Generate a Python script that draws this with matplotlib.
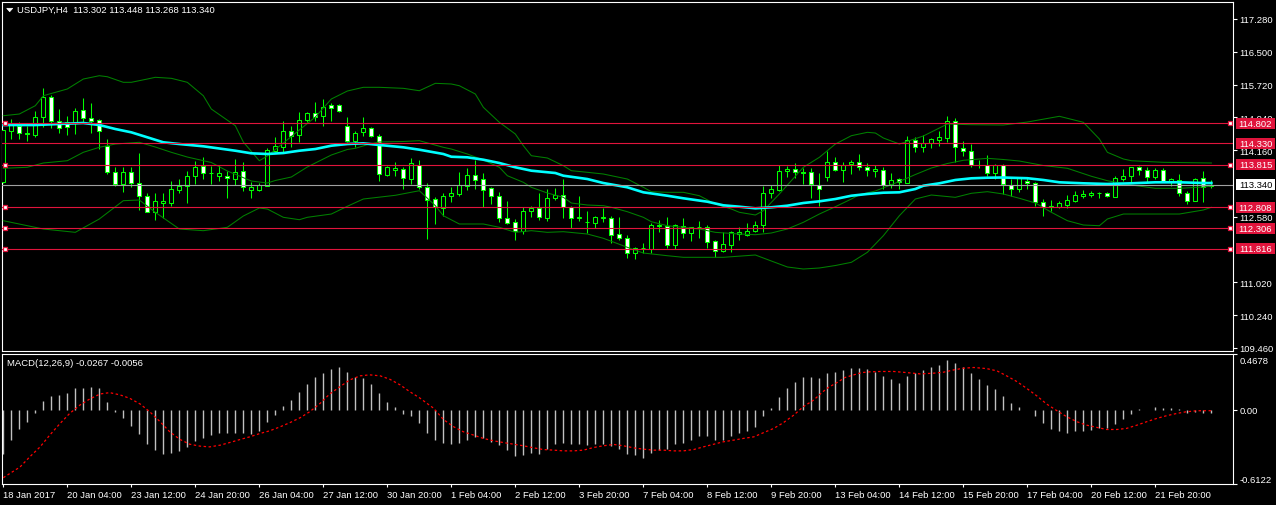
import matplotlib.pyplot as plt
import matplotlib.transforms as mtransforms
from matplotlib.patches import Rectangle, Polygon

plt.rcParams['font.family'] = ['Liberation Sans', 'DejaVu Sans']

symbol_title = "USDJPY,H4  113.302 113.448 113.268 113.340"
macd_title = "MACD(12,26,9) -0.0267 -0.0056"

# H4 candles, 18 Jan 20:00 .. 23 Feb 00:00
opens = [113.400, 114.625, 114.743, 114.570, 114.529, 114.943, 115.418, 114.862, 114.824, 114.824,
         115.117, 114.926, 114.886, 114.268, 113.636, 113.350, 113.636, 113.374, 113.065, 112.685,
         112.899, 112.899, 113.222, 113.303, 113.541, 113.778, 113.631, 113.541, 113.541, 113.476,
         113.659, 113.222, 113.222, 113.317, 114.149, 114.230, 114.610, 114.529, 114.879, 115.038,
         114.967, 115.235, 115.235, 114.736, 114.387, 114.586, 114.689, 114.506, 113.579, 113.697,
         113.714, 113.476, 113.816, 113.279, 113.001, 112.780, 113.065, 113.120, 113.317, 113.579,
         113.476, 113.262, 113.065, 112.542, 112.447, 112.233, 112.723, 112.787, 112.542, 113.025,
         113.103, 112.804, 112.542, 112.447, 112.431, 112.542, 112.542, 112.169, 112.067, 111.710,
         111.829, 111.812, 112.352, 112.352, 111.915, 112.366, 112.186, 112.328, 112.328, 111.996,
         111.758, 111.915, 112.169, 112.152, 112.233, 112.390, 113.136, 113.222, 113.659, 113.714,
         113.636, 113.636, 113.341, 113.531, 113.873, 113.697, 113.833, 113.873, 113.755, 113.674,
         113.690, 113.358, 113.476, 113.381, 114.403, 114.244, 114.325, 114.403, 114.451, 114.848,
         114.213, 114.135, 113.809, 113.809, 113.612, 113.809, 113.341, 113.239, 113.436, 113.374,
         112.923, 112.804, 112.818, 112.866, 112.961, 113.079, 113.103, 113.144, 113.144, 113.056,
         113.476, 113.555, 113.755, 113.690, 113.531, 113.690, 113.436, 113.453, 113.136, 112.961,
         113.493, 113.302]
highs = [114.650, 114.903, 114.824, 114.743, 115.086, 115.639, 115.480, 115.140, 114.967, 115.164,
         115.402, 115.276, 114.903, 114.427, 113.755, 113.755, 113.755, 114.094, 113.136, 113.136,
         113.136, 113.422, 113.476, 113.674, 113.911, 113.992, 113.793, 113.816, 113.674, 113.952,
         113.873, 113.412, 113.381, 114.213, 114.482, 114.862, 114.743, 115.062, 115.076, 115.300,
         115.378, 115.283, 115.259, 114.957, 114.625, 114.957, 114.705, 114.546, 113.793, 113.873,
         113.755, 113.976, 113.928, 113.381, 113.041, 113.144, 113.279, 113.636, 113.731, 113.928,
         113.619, 113.293, 113.160, 112.946, 112.526, 112.804, 112.842, 113.136, 113.239, 113.262,
         113.476, 112.842, 113.065, 112.709, 112.604, 112.787, 112.604, 112.580, 112.145, 111.867,
         111.955, 112.423, 112.509, 112.580, 112.407, 112.549, 112.342, 112.485, 112.383, 112.026,
         112.210, 112.248, 112.342, 112.431, 112.471, 113.317, 113.334, 113.809, 113.778, 113.850,
         113.738, 113.731, 113.612, 114.149, 113.992, 113.873, 113.928, 114.071, 113.850, 113.809,
         113.755, 113.612, 113.507, 114.491, 114.482, 114.522, 114.451, 114.610, 114.967, 114.919,
         114.373, 114.308, 113.928, 114.047, 113.833, 113.833, 113.476, 113.531, 113.500, 113.398,
         113.001, 112.977, 112.961, 113.096, 113.198, 113.222, 113.198, 113.175, 113.160, 113.555,
         113.714, 113.769, 113.778, 113.755, 113.731, 113.731, 113.507, 113.595, 113.198, 113.493,
         113.674, 113.448]
lows = [113.380, 114.427, 114.427, 114.387, 114.482, 114.705, 114.681, 114.570, 114.522, 114.546,
        114.800, 114.570, 114.189, 113.595, 113.317, 113.160, 113.293, 112.747, 112.685, 112.509,
        112.542, 112.842, 113.144, 112.899, 113.358, 113.476, 113.358, 113.436, 113.025, 113.334,
        113.184, 113.025, 113.184, 113.317, 114.111, 114.094, 114.244, 114.349, 114.838, 114.862,
        114.743, 114.862, 115.062, 114.349, 114.230, 114.506, 114.468, 113.436, 113.541, 113.555,
        113.239, 113.358, 113.239, 112.050, 112.407, 112.604, 112.937, 113.079, 113.222, 113.239,
        112.804, 112.882, 112.461, 112.407, 112.026, 112.169, 112.580, 112.509, 112.485, 112.984,
        112.549, 112.312, 112.485, 112.193, 112.312, 112.461, 111.948, 112.026, 111.599, 111.575,
        111.717, 111.717, 112.224, 111.836, 111.812, 112.074, 112.010, 112.074, 111.836, 111.629,
        111.734, 111.734, 112.034, 112.114, 112.210, 112.224, 113.025, 113.184, 113.517, 113.500,
        113.358, 113.025, 112.842, 113.436, 113.674, 113.412, 113.595, 113.697, 113.555, 113.531,
        113.239, 113.255, 113.239, 113.381, 114.125, 114.111, 114.213, 114.268, 114.349, 113.873,
        114.030, 113.755, 113.731, 113.555, 113.476, 113.120, 113.065, 113.160, 113.239, 112.828,
        112.604, 112.723, 112.780, 112.780, 112.923, 113.025, 113.041, 113.025, 113.041, 113.056,
        113.436, 113.412, 113.579, 113.412, 113.476, 113.422, 113.317, 113.079, 112.882, 112.961,
        112.937, 113.268]
closes = [114.630, 114.784, 114.563, 114.539, 114.943, 115.418, 114.862, 114.681, 114.705, 115.086,
          114.919, 114.862, 114.610, 113.636, 113.350, 113.636, 113.374, 113.065, 112.685, 112.946,
          112.953, 113.232, 113.303, 113.541, 113.755, 113.612, 113.619, 113.619, 113.493, 113.650,
          113.279, 113.279, 113.334, 114.166, 114.268, 114.610, 114.506, 114.879, 115.038, 114.957,
          115.181, 115.171, 115.086, 114.387, 114.570, 114.689, 114.491, 113.595, 113.755, 113.738,
          113.493, 113.850, 113.279, 112.984, 112.804, 113.065, 113.136, 113.334, 113.579, 113.460,
          113.222, 113.065, 112.542, 112.431, 112.233, 112.723, 112.787, 112.566, 113.025, 113.103,
          112.804, 112.542, 112.573, 112.455, 112.580, 112.580, 112.152, 112.067, 111.710, 111.829,
          111.835, 112.383, 112.390, 111.915, 112.383, 112.186, 112.328, 112.335, 111.986, 111.758,
          111.931, 112.210, 112.210, 112.233, 112.390, 113.136, 113.239, 113.659, 113.714, 113.650,
          113.630, 113.358, 113.239, 113.873, 113.697, 113.809, 113.873, 113.755, 113.697, 113.714,
          113.341, 113.460, 113.398, 114.403, 114.244, 114.325, 114.427, 114.468, 114.848, 114.230,
          114.149, 113.809, 113.803, 113.612, 113.809, 113.350, 113.239, 113.493, 113.374, 112.923,
          112.804, 112.842, 112.906, 112.977, 113.096, 113.120, 113.144, 113.150, 113.065, 113.500,
          113.555, 113.755, 113.690, 113.531, 113.690, 113.436, 113.476, 113.136, 112.961, 113.476,
          113.279, 113.340]

# Bollinger bands and moving average, read at bar indices
ub_x = [0, 2, 4, 5, 8, 10, 12, 13, 15, 16, 18, 19, 21, 23, 25, 26, 29, 30, 32, 33,
        35, 37, 39, 41, 43, 45, 47, 50, 52, 54, 56, 57, 59, 60, 62, 64, 65, 66, 68, 70,
        71, 73, 75, 76, 78, 80, 81, 83, 85, 87, 89, 91, 92, 94, 95, 97, 100, 102, 104, 106,
        108, 109, 110, 112, 115, 117, 118, 121, 125, 128, 132, 135, 137, 138, 140, 141, 145, 151]
ub_y = [114.981, 115.021, 115.219, 115.456, 115.616, 115.853, 115.932, 115.908, 115.775, 115.775,
        115.853, 115.894, 115.870, 115.775, 115.456, 115.140, 114.743, 114.356, 113.911, 114.023,
        114.332, 114.641, 114.950, 115.378, 115.568, 115.656, 115.656, 115.632, 115.575, 115.751,
        115.735, 115.694, 115.497, 115.181, 114.824, 114.546, 114.268, 114.030, 113.976, 113.793,
        113.674, 113.636, 113.595, 113.555, 113.476, 113.279, 113.175, 113.160, 113.160, 113.079,
        112.882, 112.763, 112.685, 112.621, 112.723, 113.120, 113.755, 113.992, 114.308, 114.506,
        114.586, 114.570, 114.451, 114.308, 114.499, 114.689, 114.784, 114.767, 114.760, 114.831,
        114.967, 114.824, 114.427, 114.111, 113.952, 113.911, 113.873, 113.857]
mb_x = [0, 3, 5, 8, 10, 12, 14, 17, 19, 21, 23, 26, 28, 31, 33, 34, 36, 38, 39, 41,
        43, 44, 46, 47, 50, 52, 55, 56, 58, 60, 62, 63, 65, 66, 68, 70, 71, 73, 75, 76,
        78, 80, 81, 83, 85, 87, 89, 92, 94, 96, 98, 100, 102, 104, 106, 107, 109, 110, 112, 114,
        116, 118, 120, 122, 123, 125, 127, 130, 133, 136, 138, 141, 144, 147, 150, 151]
mb_y = [113.731, 113.755, 113.857, 113.911, 114.111, 114.230, 114.308, 114.349, 114.237, 114.111,
        113.999, 113.869, 113.667, 113.429, 113.381, 113.441, 113.524, 113.762, 113.857, 114.047,
        114.178, 114.206, 114.320, 114.356, 114.368, 114.387, 114.230, 114.189, 114.071, 113.928,
        113.755, 113.555, 113.398, 113.279, 113.144, 113.041, 112.906, 112.858, 112.842, 112.804,
        112.699, 112.566, 112.461, 112.366, 112.328, 112.288, 112.209, 112.169, 112.152, 112.193,
        112.288, 112.447, 112.644, 112.818, 113.001, 113.103, 113.191, 113.267, 113.417, 113.583,
        113.738, 113.845, 113.921, 113.952, 113.968, 113.940, 113.904, 113.797, 113.731, 113.541,
        113.436, 113.334, 113.255, 113.255, 113.286, 113.310]
lb_x = [0, 5, 9, 12, 15, 17, 19, 22, 25, 28, 30, 32, 33, 35, 37, 38, 41, 43, 45, 49,
        52, 54, 55, 57, 60, 62, 64, 66, 68, 70, 73, 75, 78, 80, 83, 85, 90, 94, 96, 98,
        100, 102, 104, 106, 108, 110, 112, 114, 116, 119, 121, 123, 125, 127, 129, 131, 133, 135, 137, 138,
        140, 143, 147, 150, 151]
lb_y = [112.485, 112.288, 112.209, 112.526, 112.961, 112.977, 112.685, 112.288, 112.248, 112.328,
        112.597, 112.787, 112.763, 112.566, 112.509, 112.566, 112.644, 112.828, 113.001, 113.089,
        113.198, 112.842, 112.604, 112.407, 112.407, 112.328, 112.209, 112.248, 112.209, 112.224,
        112.169, 112.067, 111.853, 111.717, 111.653, 111.615, 111.615, 111.670, 111.527, 111.385,
        111.337, 111.361, 111.420, 111.496, 111.734, 112.129, 112.604, 113.001, 113.096, 113.041,
        113.137, 113.175, 113.120, 113.018, 112.906, 112.685, 112.485, 112.383, 112.366, 112.526,
        112.644, 112.644, 112.644, 112.740, 112.804]
ma_x = [0, 4, 10, 12, 14, 16, 18, 20, 22, 25, 29, 31, 33, 35, 37, 39, 41, 43, 45, 47,
        50, 52, 55, 56, 58, 60, 62, 64, 66, 69, 70, 73, 75, 78, 80, 83, 85, 88, 90, 92,
        94, 96, 98, 100, 102, 104, 106, 108, 110, 112, 114, 115, 117, 119, 121, 123, 125, 128, 130, 132,
        135, 138, 141, 144, 147, 150, 151]
ma_y = [114.760, 114.760, 114.808, 114.760, 114.665, 114.586, 114.468, 114.349, 114.308, 114.254,
        114.149, 114.087, 114.071, 114.094, 114.149, 114.189, 114.268, 114.308, 114.325, 114.285,
        114.230, 114.173, 114.071, 114.006, 113.992, 113.935, 113.857, 113.755, 113.674, 113.619,
        113.555, 113.476, 113.381, 113.279, 113.160, 113.079, 113.018, 112.937, 112.851, 112.818,
        112.780, 112.804, 112.842, 112.906, 112.946, 113.001, 113.079, 113.120, 113.151, 113.160,
        113.239, 113.317, 113.374, 113.453, 113.493, 113.507, 113.512, 113.495, 113.453, 113.398,
        113.374, 113.358, 113.374, 113.398, 113.398, 113.381, 113.381]

# MACD histogram (one per bar) and signal line
macd_hist = [-0.360, -0.244, -0.161, -0.102, -0.022, 0.075, 0.116, 0.122, 0.139, 0.183,
             0.186, 0.191, 0.186, 0.069, -0.019, -0.069, -0.133, -0.202, -0.283, -0.327,
             -0.360, -0.355, -0.341, -0.305, -0.258, -0.230, -0.208, -0.194, -0.188, -0.186,
             -0.194, -0.202, -0.175, -0.102, -0.042, 0.033, 0.080, 0.147, 0.216, 0.271,
             0.305, 0.341, 0.355, 0.313, 0.277, 0.263, 0.213, 0.139, 0.069, 0.022,
             -0.036, -0.050, -0.111, -0.186, -0.249, -0.277, -0.283, -0.271, -0.249, -0.222,
             -0.235, -0.263, -0.291, -0.332, -0.382, -0.374, -0.355, -0.360, -0.319, -0.283,
             -0.269, -0.283, -0.283, -0.291, -0.283, -0.283, -0.299, -0.319, -0.360, -0.374,
             -0.393, -0.352, -0.332, -0.319, -0.283, -0.269, -0.244, -0.216, -0.216, -0.244,
             -0.244, -0.216, -0.194, -0.175, -0.144, -0.050, 0.014, 0.105, 0.180, 0.230,
             0.271, 0.271, 0.263, 0.305, 0.313, 0.332, 0.346, 0.346, 0.341, 0.313,
             0.283, 0.258, 0.222, 0.283, 0.305, 0.332, 0.355, 0.374, 0.416, 0.388,
             0.355, 0.305, 0.255, 0.208, 0.172, 0.116, 0.055, 0.022, -0.003, -0.050,
             -0.111, -0.161, -0.175, -0.186, -0.175, -0.175, -0.166, -0.152, -0.152, -0.116,
             -0.075, -0.036, 0.005, -0.002, 0.022, 0.014, 0.014, 0.006, -0.028, -0.014,
             -0.022, -0.0267]
sig_x = [0.0, 0.8, 2.1, 3.3, 4.6, 5.8, 7.1, 8.3, 9.6, 10.8, 12.1, 13.3, 14.6, 15.8, 17.1, 18.3,
         19.6, 20.8, 22.1, 23.3, 24.6, 25.8, 27.1, 28.3, 29.6, 30.8, 32.1, 33.3, 34.6, 35.8, 37.1,
         38.3, 39.6, 40.8, 42.1, 43.3, 44.6, 45.8, 47.1, 48.3, 49.6, 50.8, 52.0, 53.8, 55.0, 56.3,
         57.5, 58.8, 60.0, 61.3, 62.5, 63.8, 65.0, 66.3, 67.5, 68.8, 70.0, 71.3, 72.5, 73.8, 75.0,
         76.3, 77.5, 78.8, 80.0, 81.3, 82.5, 83.8, 85.0, 86.3, 87.5, 88.8, 90.0, 91.3, 92.5, 93.8,
         95.0, 96.3, 97.5, 98.8, 100.0, 101.3, 102.3, 103.1, 104.2, 105.2, 106.3, 107.3, 108.3,
         109.6, 111.3, 112.9, 114.6, 116.3, 117.5, 118.8, 120.0, 121.3, 122.9, 124.2, 125.4, 126.7,
         127.9, 129.2, 130.4, 131.7, 132.9, 134.2, 135.4, 136.7, 137.9, 139.2, 140.4, 141.7, 142.9,
         144.2, 145.4, 146.7, 147.9, 149.2, 151.0]
sig_y = [-0.560, -0.526, -0.471, -0.388, -0.305, -0.208, -0.111, -0.028, 0.042, 0.091,
         0.133, 0.144, 0.125, 0.097, 0.050, -0.014, -0.097, -0.180, -0.244, -0.283,
         -0.299, -0.305, -0.291, -0.269, -0.244, -0.222, -0.194, -0.172, -0.139, -0.105,
         -0.064, -0.014, 0.055, 0.133, 0.194, 0.249, 0.283, 0.291, 0.283, 0.255,
         0.208, 0.152, 0.102, 0.014, -0.078, -0.139, -0.180, -0.208, -0.235, -0.255,
         -0.269, -0.283, -0.296, -0.313, -0.327, -0.332, -0.338, -0.338, -0.332, -0.310,
         -0.296, -0.285, -0.296, -0.313, -0.324, -0.332, -0.332, -0.338, -0.338, -0.327,
         -0.305, -0.283, -0.263, -0.249, -0.235, -0.222, -0.188, -0.152, -0.105, -0.042,
         0.028, 0.083, 0.144, 0.186, 0.227, 0.269, 0.291, 0.310, 0.316, 0.319,
         0.319, 0.310, 0.299, 0.305, 0.313, 0.332, 0.346, 0.352, 0.343, 0.324,
         0.283, 0.235, 0.180, 0.116, 0.050, -0.006, -0.055, -0.097, -0.125, -0.144,
         -0.161, -0.161, -0.152, -0.125, -0.097, -0.069, -0.047, -0.028, -0.014, -0.006,
         -0.0056]

date_labels = ["18 Jan 2017", "20 Jan 04:00", "23 Jan 12:00", "24 Jan 20:00", "26 Jan 04:00",
               "27 Jan 12:00", "30 Jan 20:00", "1 Feb 04:00", "2 Feb 12:00", "3 Feb 20:00",
               "7 Feb 04:00", "8 Feb 12:00", "9 Feb 20:00", "13 Feb 04:00", "14 Feb 12:00",
               "15 Feb 20:00", "17 Feb 04:00", "20 Feb 12:00", "21 Feb 20:00"]
price_ticks = [117.280, 116.500, 115.720, 114.940, 114.160, 112.580, 111.020, 110.240, 109.460]
level_prices = [114.802, 114.330, 113.815, 112.808, 112.306, 111.816]
level_handles = [True, False, True, True, True, True]
last_price = 113.340
macd_lo, macd_hi = -0.6122, 0.4678

BG = 'black'
FG = 'white'
WICK = '#00FF00'
BAND = '#008000'
MA = '#00FFFF'
LEVEL = '#E0143C'
FS = 6.8

W, H = 1276, 506
fig = plt.figure(figsize=(W / 100, H / 100), dpi=100, facecolor=BG)


def panel(left, top, right, bottom):
    a = fig.add_axes([left / W, 1 - bottom / H, (right - left) / W, (bottom - top) / H], facecolor=BG)
    for s in a.spines.values():
        s.set_color(FG)
        s.set_linewidth(0.8)
    return a


ax = panel(2.5, 2.5, 1233, 351.7)
mx = panel(2.5, 354.5, 1233, 485)
ax_w_px = 1233 - 2.5
ax_h_px = 351.7 - 2.5

n = len(closes)
idx = list(range(n))
for a in (ax, mx):
    a.set_xlim(-0.1, 153.7)
ax.set_ylim(109.395, 117.696)
mx.set_ylim(macd_lo, macd_hi)

# candles: hollow (black) when up, white when down
lo_body = [min(o, c) for o, c in zip(opens, closes)]
body_h = [abs(c - o) for o, c in zip(opens, closes)]
faces = ['black' if c > o else 'white' for o, c in zip(opens, closes)]
ax.vlines(idx, lows, highs, color=WICK, lw=0.75, zorder=2)
ax.bar(idx, body_h, width=0.5, bottom=lo_body, color=faces, edgecolor=WICK, linewidth=0.75, zorder=3)

# indicators
for bx, by in ((ub_x, ub_y), (mb_x, mb_y), (lb_x, lb_y)):
    ax.plot(bx, by, color=BAND, lw=0.75, zorder=4)
ax.plot(ma_x, ma_y, color=MA, lw=1.9, zorder=5)

# horizontal levels
for p in level_prices:
    ax.axhline(p, color=LEVEL, lw=0.8, zorder=6)
ax.axhline(last_price, color='#A0A0A0', lw=0.8, zorder=6)

# price axis
ax.yaxis.tick_right()
ax.set_yticks(price_ticks, labels=[f'{v:.3f}' for v in price_ticks])
ax.tick_params(axis='y', colors=FG, length=3, width=0.8, pad=1.8, labelsize=FS)
ax.tick_params(axis='x', bottom=False, labelbottom=False)

side = mtransforms.blended_transform_factory(ax.transAxes, ax.transData)
y0, y1 = ax.get_ylim()
box_h = 11 * (y1 - y0) / ax_h_px
box_x = (1236 - 2.5) / ax_w_px
box_w = 39 / ax_w_px
for p, handle in zip(level_prices, level_handles):
    ax.add_patch(Rectangle((box_x, p - box_h / 2), box_w, box_h, transform=side,
                           facecolor=LEVEL, edgecolor='none', clip_on=False, zorder=10))
    ax.text(box_x + box_w / 2, p, f'{p:.3f}', transform=side, ha='center', va='center',
            color='white', fontsize=FS, clip_on=False, zorder=11)
    if handle:
        ax.plot([0.0023, 0.9976], [p, p], transform=side, ls='none', marker='s', ms=3.4,
                mfc='white', mec=LEVEL, mew=0.9, clip_on=False, zorder=9)
ax.add_patch(Rectangle((box_x, last_price - box_h / 2), box_w, box_h, transform=side,
                       facecolor='white', edgecolor='none', clip_on=False, zorder=10))
ax.text(box_x + box_w / 2, last_price, f'{last_price:.3f}', transform=side, ha='center',
        va='center', color='black', fontsize=FS, clip_on=False, zorder=11)

# title
ax.text((17 - 2.5) / ax_w_px, (351.7 - 10.7) / ax_h_px, symbol_title, transform=ax.transAxes,
        color=FG, fontsize=FS, va='center')
tri = [(6.7, 9.3), (12.7, 9.3), (9.7, 12.7)]
ax.add_patch(Polygon([((x - 2.5) / ax_w_px, (351.7 - y) / ax_h_px) for x, y in tri],
                     closed=True, transform=ax.transAxes, facecolor=FG, edgecolor=FG, lw=0.5))

# MACD panel
mx.vlines(idx, 0, macd_hist, color='#C0C0C0', lw=1.0, zorder=2)
mx.plot(sig_x, sig_y, color='#FF0000', lw=0.9, ls=(0, (2, 2)), zorder=3)
mx.yaxis.tick_right()
mx.set_yticks([macd_hi, 0.0, macd_lo], labels=['', '', ''])
mx.tick_params(axis='y', colors=FG, length=3, width=0.8)
mside = mtransforms.blended_transform_factory(mx.transAxes, mx.transData)
lab_x = (1239.5 - 2.5) / ax_w_px
mx.text(lab_x, macd_hi, f'{macd_hi:.4f}',
        transform=mtransforms.offset_copy(mside, fig=fig, y=-2, units='dots'),
        va='top', color=FG, fontsize=FS, clip_on=False)
mx.text(lab_x, 0.0, '0.00', transform=mside, va='center', color=FG, fontsize=FS, clip_on=False)
mx.text(lab_x, macd_lo, f'{macd_lo:.4f}', transform=mside, va='bottom', color=FG, fontsize=FS, clip_on=False)
mx.text((7 - 2.5) / ax_w_px, (485 - 363) / 130.5, macd_title, transform=mx.transAxes,
        color=FG, fontsize=FS, va='center')

mx.set_xticks(list(range(0, 8 * len(date_labels), 8)))
mx.set_xticklabels(date_labels, ha='left')
mx.tick_params(axis='x', colors=FG, length=2.5, width=0.8, pad=2, labelsize=FS)

fig.savefig('out.png', dpi=100, facecolor=BG)
